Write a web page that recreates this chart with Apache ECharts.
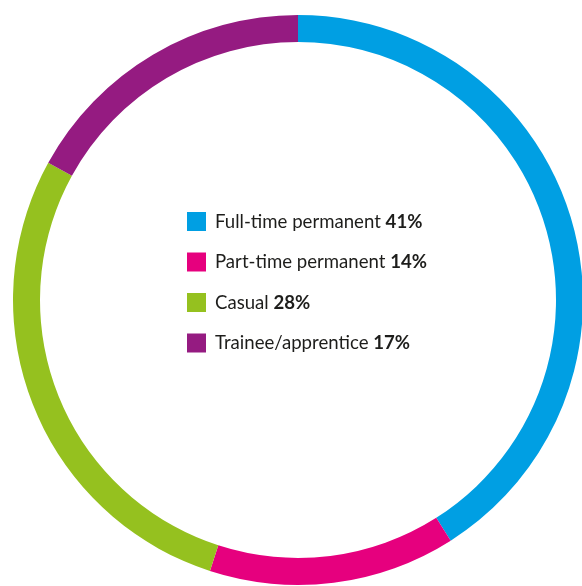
<!DOCTYPE html>
<html><head><meta charset="utf-8">
<script src="https://cdn.jsdelivr.net/npm/echarts@6/dist/echarts.min.js"></script>
<style>html,body{margin:0;padding:0;background:#fff}#c{width:582px;height:586px}</style>
</head><body><div id="c"></div>
<script>
const categories = ['Full-time permanent', 'Part-time permanent', 'Casual', 'Trainee/apprentice'];
const values = [41, 14, 28, 17];
const colors = ['#009FE3', '#E6007E', '#95C11F', '#951B81'];

const chart = echarts.init(document.getElementById('c'), null, {renderer: 'canvas'});
chart.setOption({
  animation: false,
  color: colors,
  legend: {
    orient: 'vertical',
    left: 182,
    top: 207,
    icon: 'rect',
    itemWidth: 19,
    itemHeight: 19,
    itemGap: 21.5,
    selectedMode: false,
    data: categories,
    formatter: function (name) {
      const i = categories.indexOf(name);
      return '{n|' + name + ' }{b|' + values[i] + '%}';
    },
    textStyle: {
      padding: [0, 0, 0, 4],
      rich: {
        n: {fontFamily: 'Lato', fontSize: 18.6, color: '#1d1d1b'},
        b: {fontFamily: 'Lato', fontSize: 18.6, fontWeight: 'bold', color: '#1d1d1b'}
      }
    }
  },
  series: [{
    type: 'pie',
    center: [298, 300],
    radius: [258, 285],
    startAngle: 90,
    clockwise: true,
    label: {show: false},
    labelLine: {show: false},
    silent: true,
    itemStyle: {borderWidth: 0},
    data: categories.map((c, i) => ({name: c, value: values[i]}))
  }]
});
</script></body></html>
